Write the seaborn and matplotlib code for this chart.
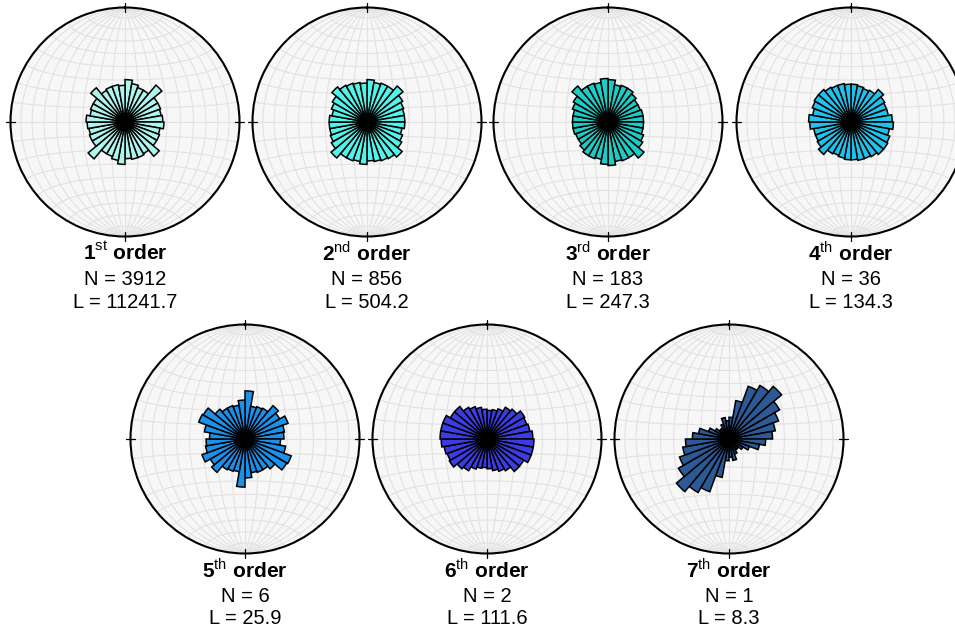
import numpy as np
import matplotlib
matplotlib.use("Agg")
import matplotlib.pyplot as plt
import seaborn as sns

# ------------------------------------------
# data: rose lengths (% of net radius) for bins 0-10, 10-20, ... 170-180 deg
# (axial data, the other half of each rose is the mirror)
# ------------------------------------------
orders = ["1", "2", "3", "4", "5", "6", "7"]
suffixes = ["st", "nd", "rd", "th", "th", "th", "th"]
n_segments = [3912, 856, 183, 36, 6, 2, 1]
total_length = [11241.7, 504.2, 247.3, 134.3, 25.9, 111.6, 8.3]

rose_1st = [37, 34, 32, 32, 42, 33, 33, 32, 33, 34, 31, 32, 32, 39, 32, 33, 33, 32]
rose_2nd = [37, 35, 36, 36, 41, 36, 34, 33, 33, 33, 31, 33, 35, 40, 37, 36, 35, 34]
rose_3rd = [37, 33, 34, 34, 32, 30, 30, 31, 31, 31, 31, 33, 35, 41, 36, 36, 35, 38]
rose_4th = [33, 32, 31, 32, 37, 34, 33, 33, 36, 37, 34, 36, 37, 37, 35, 34, 34, 33]
rose_5th = [42, 29, 30, 31, 38, 35, 40, 35, 34, 31, 36, 43, 42, 34, 31, 31, 30, 34]
rose_6th = [25, 26, 28, 32, 34, 38, 37, 38, 40, 41, 41, 41, 37, 37, 32, 30, 28, 26]
rose_7th = [19, 34, 49, 54, 60, 51, 46, 41, 38, 32, 27, 19, 14, 11, 11, 14, 19, 16]
roses = [rose_1st, rose_2nd, rose_3rd, rose_4th, rose_5th, rose_6th, rose_7th]

colors = ["#aef4ef", "#52f3ea", "#1ccdc6", "#1ec2ec", "#1a92ec", "#3c3ce4", "#2c5a96"]

# circle centres in pixels (x from left, y from top)
centers = [(125, 122), (367, 122), (608, 122), (851, 122),
           (245, 439), (487, 439), (729, 439)]
R_PX = 114.5
W_PX, H_PX = 955, 630

sns.set_theme(style="white")
plt.rcParams["font.family"] = ["Liberation Sans", "DejaVu Sans"]
plt.rcParams["mathtext.fontset"] = "custom"
plt.rcParams["mathtext.rm"] = "Liberation Sans"
plt.rcParams["mathtext.bf"] = "Liberation Sans:bold"
plt.rcParams["text.color"] = "black"


def schmidt_lines(step=10, npts=181):
    """Equal-area net: meridians (poles N/S) and small circles, unit disk."""
    lines = []
    s = np.sqrt(2)
    # great circles (constant longitude)
    phi = np.deg2rad(np.linspace(-90, 90, npts))
    for lam_d in range(-90, 91, step):
        lam = np.deg2rad(lam_d)
        k = np.sqrt(2 / (1 + np.cos(phi) * np.cos(lam) + 1e-12))
        x = k * np.cos(phi) * np.sin(lam) / s
        y = k * np.sin(phi) / s
        lines.append((x, y))
    # small circles (constant latitude)
    lam = np.deg2rad(np.linspace(-90, 90, npts))
    for phi_d in range(-80, 81, step):
        ph = np.deg2rad(phi_d)
        k = np.sqrt(2 / (1 + np.cos(ph) * np.cos(lam)))
        x = k * np.cos(ph) * np.sin(lam) / s
        y = k * np.sin(ph) / s * np.ones_like(lam)
        lines.append((x, y))
    return lines


net = schmidt_lines()
bin_centers = np.deg2rad(np.arange(5, 360, 10))
bin_width = np.deg2rad(10)

fig = plt.figure(figsize=(W_PX / 100, H_PX / 100), dpi=100)

for i, (cx, cy) in enumerate(centers):
    ax = fig.add_axes([(cx - R_PX) / W_PX, 1 - (cy + R_PX) / H_PX,
                       2 * R_PX / W_PX, 2 * R_PX / H_PX], projection="polar")
    ax.set_theta_zero_location("N")
    ax.set_theta_direction(-1)
    ax.set_facecolor("#f7f7f7")
    ax.grid(False)
    ax.set_xticks([])
    ax.set_yticks([])
    ax.spines["polar"].set_color("black")
    ax.spines["polar"].set_linewidth(1.5)

    # stereonet grid
    for x, y in net:
        th = np.arctan2(x, y)
        r = np.hypot(x, y) * 100
        ax.plot(th, r, color="#e2e2e2", lw=0.8, zorder=1)

    # N/E/S/W ticks
    for t in [0, 90, 180, 270]:
        ax.plot([np.deg2rad(t)] * 2, [96, 104], color="black", lw=0.9,
                clip_on=False, zorder=3)

    vals = np.concatenate([roses[i], roses[i]])
    ax.bar(bin_centers, vals, width=bin_width, bottom=0, color=colors[i],
           edgecolor="black", linewidth=1.1, zorder=2)
    ax.set_ylim(0, 100)

    # labels (baselines below the net)
    ytop = cy + R_PX
    fig.text(cx / W_PX, 1 - (ytop + 24) / H_PX,
             f"{orders[i]}$^{{\\rm {suffixes[i]}}}$ order",
             ha="center", va="baseline", fontsize=15, fontweight="bold")
    fig.text(cx / W_PX, 1 - (ytop + 48.5) / H_PX, f"N = {n_segments[i]}",
             ha="center", va="baseline", fontsize=14.5)
    fig.text(cx / W_PX, 1 - (ytop + 71) / H_PX, f"L = {total_length[i]}",
             ha="center", va="baseline", fontsize=14.5)

fig.savefig("out.png", dpi=100, facecolor="white")
